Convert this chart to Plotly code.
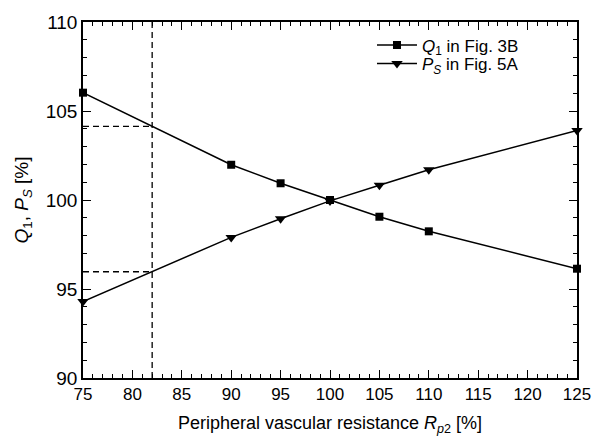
import plotly.graph_objects as go

x_vals = [75, 90, 95, 100, 105, 110, 125]
q1_vals = [106.03, 101.98, 100.94, 100.0, 99.06, 98.24, 96.14]
ps_vals = [94.3, 97.9, 98.95, 99.95, 100.83, 101.7, 103.9]
guide_x = 82
guide_q1 = 104.14
guide_ps = 95.97
x_range = [75, 125]
y_range = [90, 110]

FONT = "Liberation Sans, Arial, sans-serif"

fig = go.Figure()

# dashed guide lines
fig.add_trace(go.Scatter(x=[guide_x, guide_x], y=y_range, mode="lines",
                         line=dict(color="black", width=1.3, dash="6px,4px"),
                         showlegend=False, hoverinfo="skip"))
for gy in [guide_q1, guide_ps]:
    fig.add_trace(go.Scatter(x=[x_range[0], guide_x], y=[gy, gy], mode="lines",
                             line=dict(color="black", width=1.3, dash="6px,4px"),
                             showlegend=False, hoverinfo="skip"))

fig.add_trace(go.Scatter(x=x_vals, y=q1_vals, mode="lines+markers",
                         name="<i>Q</i><sub>1</sub> in Fig. 3B",
                         line=dict(color="black", width=1.5),
                         marker=dict(symbol="square", size=8, color="black"),
                         cliponaxis=False, legend="legend"))
fig.add_trace(go.Scatter(x=x_vals, y=ps_vals, mode="lines+markers",
                         name="<i>P</i><sub><i>S</i></sub> in Fig. 5A",
                         line=dict(color="black", width=1.5),
                         marker=dict(symbol="triangle-down", size=10, color="black"),
                         cliponaxis=False, legend="legend2"))

axis_common = dict(showline=True, linecolor="black", linewidth=1.5, mirror="allticks",
                   ticks="inside", ticklen=8, tickwidth=1.3, tickcolor="black",
                   showgrid=False, zeroline=False)

fig.update_xaxes(range=x_range, dtick=5, tick0=75,
                 minor=dict(dtick=1, ticklen=4, tickwidth=1.2, tickcolor="black", ticks="inside"),
                 tickfont=dict(family=FONT, size=17, color="black"),
                 title=dict(text="Peripheral vascular resistance <i>R</i><sub><i>p</i>2</sub> [%]",
                            font=dict(family=FONT, size=18, color="black"), standoff=13),
                 **axis_common)
fig.update_yaxes(range=y_range, dtick=5, tick0=90,
                 minor=dict(dtick=1, ticklen=4, tickwidth=1.2, tickcolor="black", ticks="inside"),
                 tickfont=dict(family=FONT, size=19, color="black"),
                 title=dict(text="<i>Q</i><sub>1</sub>, <i>P</i><sub><i>S</i></sub> [%]",
                            font=dict(family=FONT, size=19, color="black"), standoff=12),
                 **axis_common)

legend_common = dict(x=0.585, xanchor="left", yanchor="top",
                     bgcolor="rgba(0,0,0,0)", font=dict(family=FONT, size=17, color="black"),
                     tracegroupgap=0, itemwidth=40)

fig.update_layout(width=603, height=442,
                  margin=dict(l=83, r=25, t=15, b=64),
                  plot_bgcolor="white", paper_bgcolor="white",
                  font=dict(family=FONT, color="black"),
                  legend=dict(y=0.985, **legend_common),
                  legend2=dict(y=0.933, **legend_common))

fig.write_html("out.html")
